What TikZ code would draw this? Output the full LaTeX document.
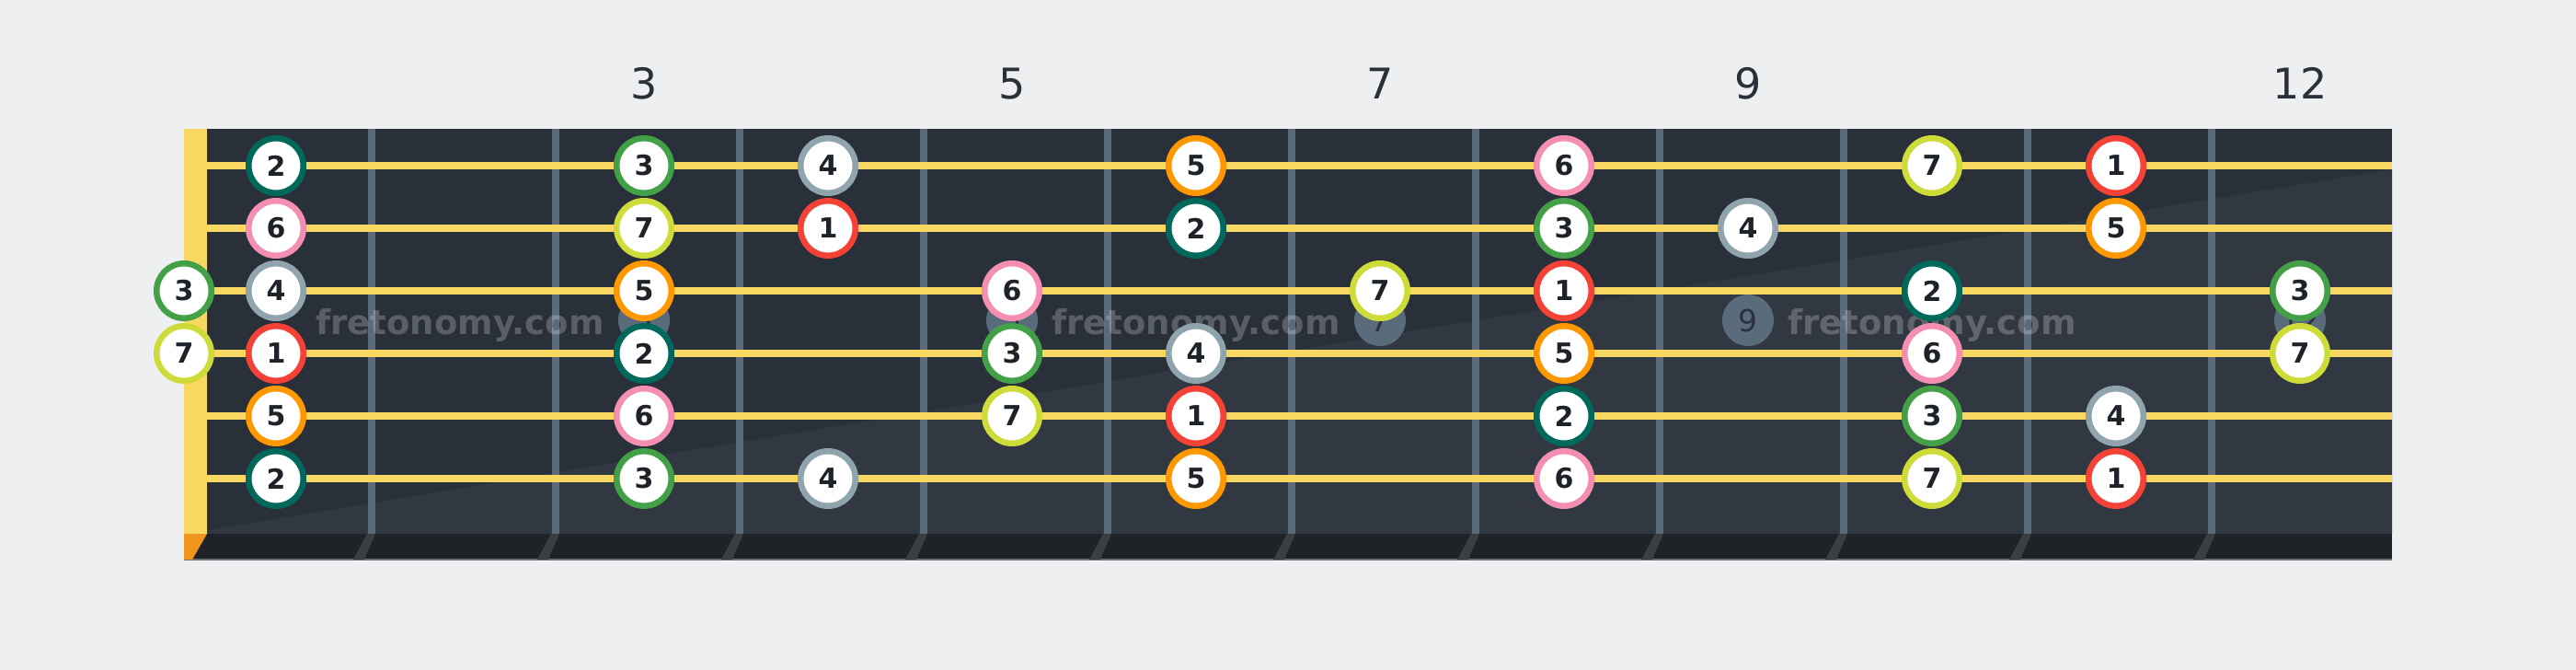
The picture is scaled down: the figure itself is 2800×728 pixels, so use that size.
\documentclass[tikz,border=0pt]{standalone}
\usepackage{fontspec}
\setmainfont{DejaVu Sans}
\usetikzlibrary{calc}
\definecolor{bg}{HTML}{EEEFF1}
\definecolor{board}{HTML}{29303A}
\definecolor{boardlight}{HTML}{323841}
\definecolor{stripc}{HTML}{1F2328}
\definecolor{stripfret}{HTML}{3A3F46}
\definecolor{stripline}{HTML}{6B6F75}
\definecolor{fretc}{HTML}{5A6B7B}
\definecolor{stringc}{HTML}{F9D862}
\definecolor{nutorange}{HTML}{F0961E}
\definecolor{numc}{HTML}{2B3038}
\definecolor{markertext}{HTML}{2A323C}
\definecolor{notetext}{HTML}{1E2329}
\definecolor{c1}{HTML}{F44336}
\definecolor{c2}{HTML}{00695C}
\definecolor{c3}{HTML}{43A047}
\definecolor{c4}{HTML}{90A4AE}
\definecolor{c5}{HTML}{FF9800}
\definecolor{c6}{HTML}{F48FB1}
\definecolor{c7}{HTML}{CDDC39}
\tikzset{
  notecirc/.style={circle, draw=#1, line width=6.5pt, fill=white, minimum size=59.5pt,
    inner sep=0pt, text=notetext, font=\bfseries\fontsize{30}{30}\selectfont},
  fretnum/.style={anchor=base, text=numc, font=\fontsize{46}{46}\selectfont, inner sep=0pt},
  fretmarker/.style={circle, fill=fretc, minimum size=56pt, inner sep=0pt,
    text=markertext, font=\fontsize{33}{33}\selectfont},
  wmark/.style={anchor=base west, inner sep=0pt, text=white, text opacity=0.23,
    font=\bfseries\fontsize{37}{37}\selectfont},
}
\begin{document}
\begin{tikzpicture}[x=1pt,y=-1pt]
\fill[bg] (0,0) rectangle (2800,728);
\useasboundingbox (0,0) rectangle (2800,728);
% board
\fill[board] (200,140) rectangle (2600,580);
\fill[boardlight] (225,576) -- (2600,184) -- (2600,580) -- (225,580) -- cycle;
% bottom strip
\fill[stripc] (200,580) rectangle (2600,608);
\draw[stripline, line width=1.2pt] (200,608) -- (2600,608);
\foreach \k in {1,...,11} {
  \pgfmathsetmacro\fx{204+200*\k}
  \fill[stripfret] (\fx-5,580) -- (\fx+4,580) -- (\fx-8,608) -- (\fx-20,608) -- cycle;
}
\fill[nutorange] (200,580) -- (225,580) -- (209,608) -- (200,608) -- cycle;
% frets
\foreach \k in {1,...,11} {
  \pgfmathsetmacro\fx{204+200*\k}
  \fill[fretc] (\fx-4,140) rectangle (\fx+4,580);
}
% nut
\fill[stringc] (200,140) rectangle (225,580);
% strings
\foreach \s in {1,...,6} {
  \pgfmathsetmacro\sy{180+68*(\s-1)}
  \coordinate (sL\s) at (225,\sy);
  \coordinate (sR\s) at (2600,\sy);
  \fill[stringc] ($(sL\s)+(0,-4)$) rectangle ($(sR\s)+(0,4)$);
}
% fret numbers
\node[fretnum] (fn3) at (700,107) {3};
\node[fretnum] (fn5) at (1100,107) {5};
\node[fretnum] (fn7) at (1500,107) {7};
\node[fretnum] (fn9) at (1900,107) {9};
\node[fretnum] (fn12) at (2500,107) {12};
% fret markers
\node[fretmarker] (m3) at (700,348) {3};
\node[fretmarker] (m5) at (1100,348) {5};
\node[fretmarker] (m7) at (1500,348) {7};
\node[fretmarker] (m9) at (1900,348) {9};
\node[fretmarker] (m12) at (2500,348) {12};
% watermarks
\node[wmark] (w1) at (343,363) {fretonomy.com};
\node[wmark] (w2) at (1143,363) {fretonomy.com};
\node[wmark] (w3) at (1943,363) {fretonomy.com};
% notes
\foreach \s/\f/\d in {
  1/1/2, 1/3/3, 1/4/4, 1/6/5, 1/8/6, 1/10/7, 1/11/1,
  2/1/6, 2/3/7, 2/4/1, 2/6/2, 2/8/3, 2/9/4, 2/11/5,
  3/0/3, 3/1/4, 3/3/5, 3/5/6, 3/7/7, 3/8/1, 3/10/2, 3/12/3,
  4/0/7, 4/1/1, 4/3/2, 4/5/3, 4/6/4, 4/8/5, 4/10/6, 4/12/7,
  5/1/5, 5/3/6, 5/5/7, 5/6/1, 5/8/2, 5/10/3, 5/11/4,
  6/1/2, 6/3/3, 6/4/4, 6/6/5, 6/8/6, 6/10/7, 6/11/1} {
  \pgfmathsetmacro\nx{ifthenelse(\f==0,200,100+200*\f)}
  \pgfmathsetmacro\ny{180+68*(\s-1)}
  \node[notecirc=c\d] (n\s-\f) at (\nx,\ny) {\d};
}
\end{tikzpicture}
\end{document}
